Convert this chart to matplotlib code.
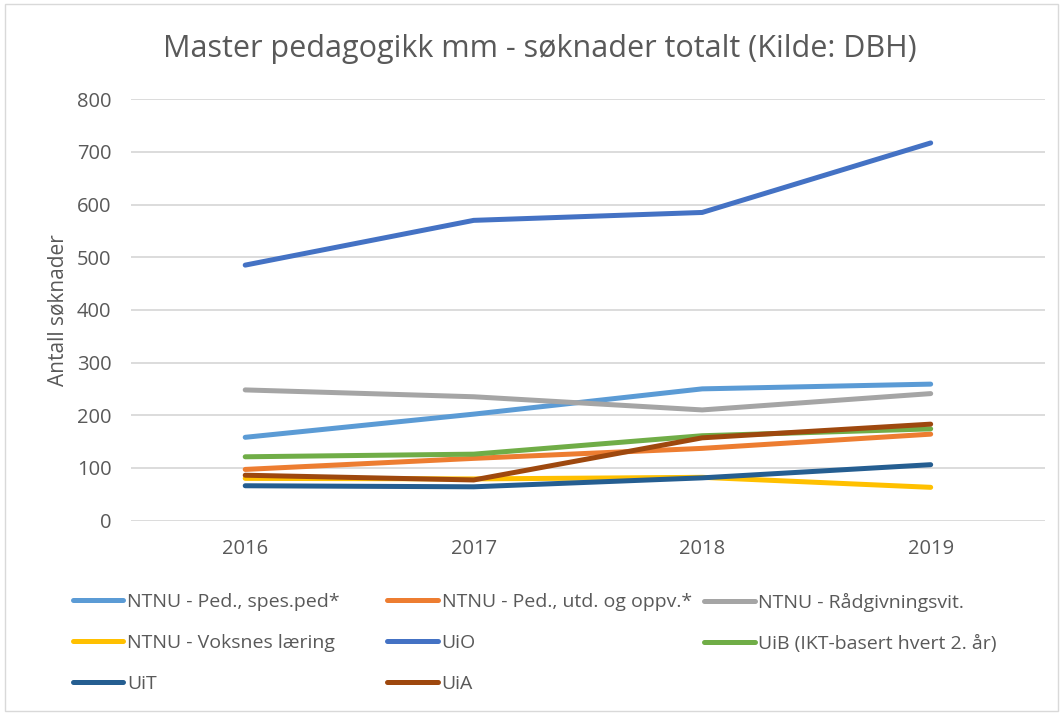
import matplotlib
matplotlib.use("Agg")
import matplotlib.pyplot as plt
from matplotlib.patches import Rectangle

plt.rcParams['font.family'] = ['Open Sans', 'DejaVu Sans']

years = ['2016', '2017', '2018', '2019']
series_names = ['NTNU - Ped., spes.ped*', 'NTNU - Ped., utd. og oppv.*', 'NTNU - Rådgivningsvit.',
                'NTNU - Voksnes læring', 'UiO', 'UiB (IKT-basert hvert 2. år)', 'UiT', 'UiA']
spes_ped = [158, 202, 250, 259]
utd_oppv = [97, 118, 137, 164]
raadgivning = [248, 235, 210, 241]
voksnes = [80, 79, 82, 63]
uio = [485, 570, 585, 717]
uib = [121, 126, 161, 174]
uit = [66, 64, 81, 106]
uia = [86, 77, 157, 183]
colors = ['#5B9BD5', '#ED7D31', '#A5A5A5', '#FFC000', '#4472C4', '#70AD47', '#255E91', '#9E480E']

all_series = [spes_ped, utd_oppv, raadgivning, voksnes, uio, uib, uit, uia]
txt = '#595959'

fig = plt.figure(figsize=(10.63, 7.14), dpi=100)
ax = fig.add_axes([0.1232, 0.271, 0.8598, 0.590])

x = list(range(len(years)))
lines = []
for name, vals, c in zip(series_names, all_series, colors):
    ln, = ax.plot(x, vals, color=c, lw=3.6, solid_capstyle='round', solid_joinstyle='round', label=name)
    lines.append(ln)

ax.set_xlim(-0.5, 3.5)
ax.set_ylim(0, 800)
ax.set_yticks(range(0, 801, 100))
ax.set_xticks(x)
ax.set_xticklabels(years)
ax.grid(axis='y', color='#D9D9D9', lw=1.3)
ax.set_axisbelow(True)
for s in ax.spines.values():
    s.set_visible(False)
ax.tick_params(length=0, colors=txt, labelsize=14.5)
ax.tick_params(axis='y', pad=14)
ax.tick_params(axis='x', pad=13)
ax.set_ylabel('Antall søknader', fontsize=15, color=txt, labelpad=6)

fig.text(0.508, 0.931, 'Master pedagogikk mm - søknader totalt (Kilde: DBH)',
         ha='center', va='center', fontsize=22, color=txt)

# legend in three columns, filled row by row like Excel
col_x = [0.061, 0.357, 0.655]
for ci, cx in enumerate(col_x):
    idx = list(range(ci, len(lines), 3))
    fig.legend([lines[i] for i in idx], [series_names[i] for i in idx],
               loc='upper left', bbox_to_anchor=(cx, 0.181), frameon=False,
               fontsize=14, handlelength=2.6, handletextpad=0.2,
               labelspacing=1.2, labelcolor=txt, borderaxespad=0)

fig.patches.append(Rectangle((0.005, 0.004), 0.99, 0.99, transform=fig.transFigure,
                             fill=False, edgecolor='#D9D9D9', lw=1))

fig.savefig('out.png', dpi=100)
